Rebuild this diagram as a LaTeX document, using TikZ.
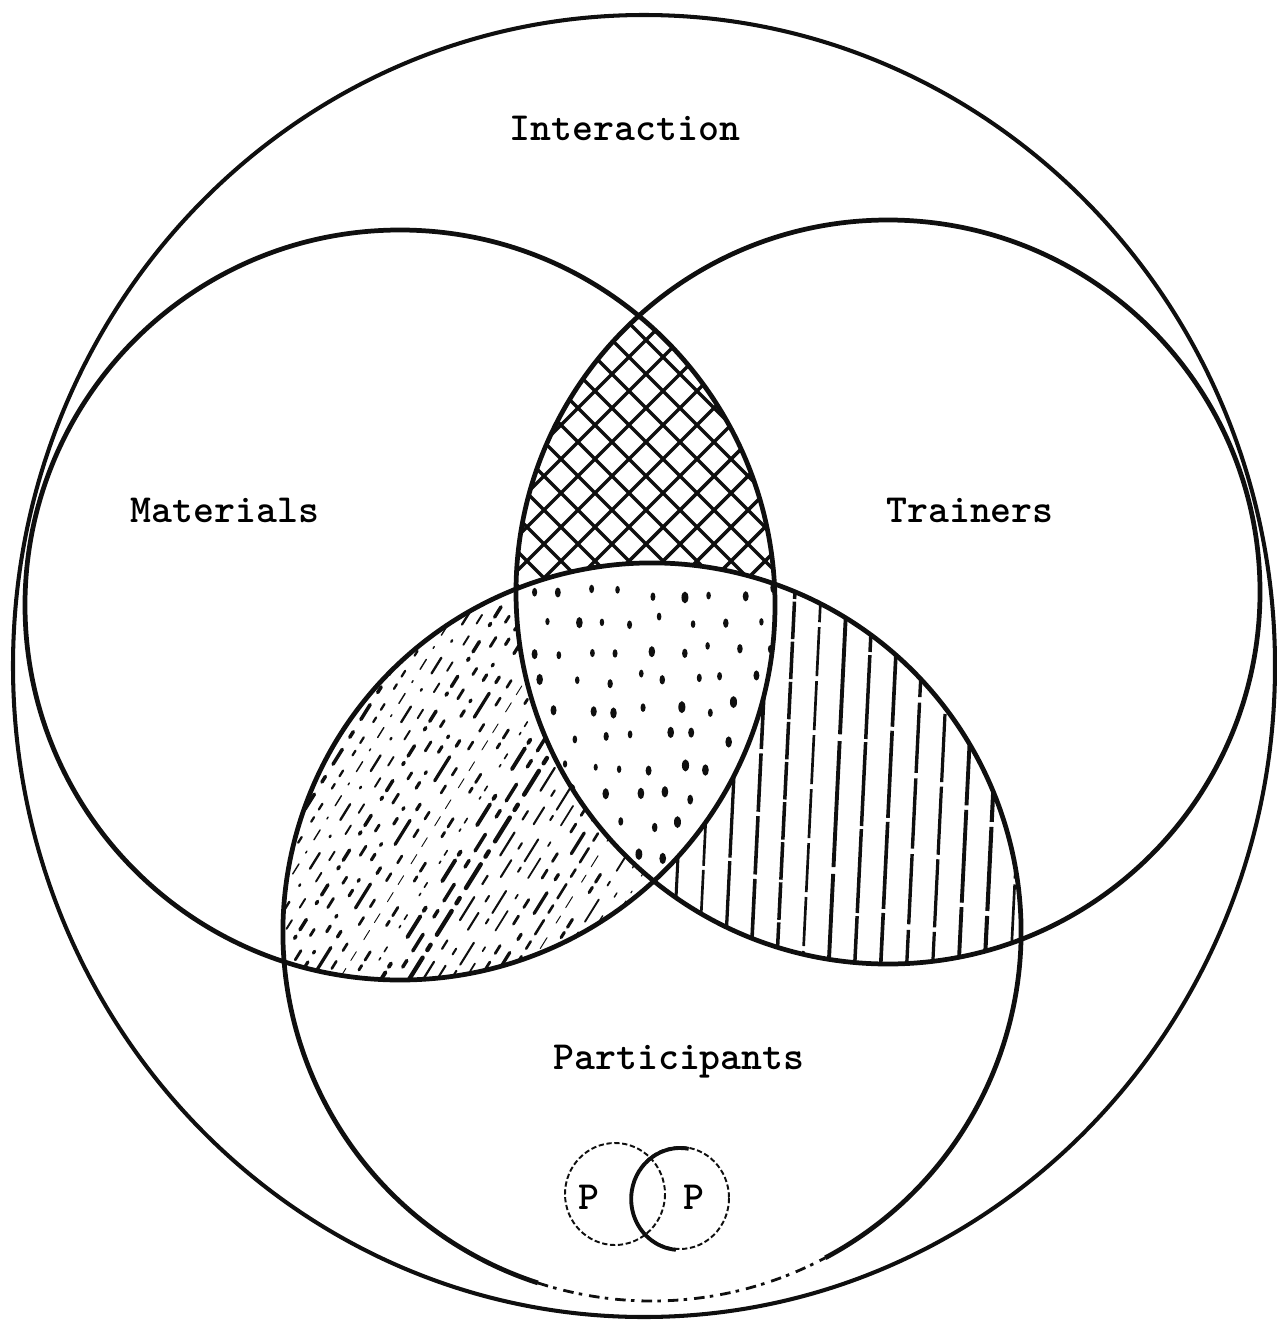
\documentclass[tikz,border=0pt]{standalone}
\usepackage{tikz}
\usetikzlibrary{calc}
\definecolor{inkblack}{RGB}{15,15,15}

\begin{document}
\begin{tikzpicture}[x=.02cm,y=-.02cm,font=\ttfamily\bfseries\fontsize{22.7}{27}\selectfont,
    ring/.style={draw=inkblack,line width=2.7pt},
    hatch/.style={inkblack,line width=2pt,line cap=round}]
  \useasboundingbox (0,0) rectangle (1276,1325);
  \pgfmathsetseed{11}
  % shading of the overlaps first, rings on top
  \begin{scope}[even odd rule] % materials and trainers only
    \clip (400,605) circle (375); \clip (888,592) circle (372);
    \clip (0,0) rectangle (1276,1325) (652,932) circle (369);
    \foreach \k in {-3,...,40} {\draw[hatch] (\k*34,0) -- ++(1400,1400); \draw[hatch] (\k*34,0) -- ++(-1400,1400);}
  \end{scope}
  \begin{scope} % all three
    \clip (400,605) circle (375); \clip (888,592) circle (372); \clip (652,932) circle (369);
    \foreach \r in {0,...,10} \foreach \c in {0,...,8} {
      \pgfmathsetmacro{\px}{530+\c*30+mod(\r,2)*15+7*rand}
      \pgfmathsetmacro{\py}{592+\r*29+6*rand}
      \pgfmathsetmacro{\sx}{2+1.6*rnd} \pgfmathsetmacro{\sy}{1.7*\sx}
      \fill[inkblack] (\px,\py) ellipse [x radius=\sx, y radius=\sy];
    }
  \end{scope}
  \begin{scope}[even odd rule] % materials and participants only
    \clip (400,605) circle (375); \clip (652,932) circle (369);
    \clip (0,0) rectangle (1276,1325) (888,592) circle (372);
    \foreach \k in {0,...,31} {
      \pgfmathsetmacro{\lw}{0.5+2*rnd}
      \pgfmathsetmacro{\onA}{3+14*rnd} \pgfmathsetmacro{\offA}{3+10*rnd}
      \pgfmathsetmacro{\onB}{1+5*rnd} \pgfmathsetmacro{\offB}{4+14*rnd}
      \pgfmathsetmacro{\ph}{30*rnd}
      \draw[inkblack,line width=\lw pt,line cap=round,dash pattern=on \onA pt off \offA pt on \onB pt off \offB pt,dash phase=\ph pt] (180+\k*14,1010) -- ++(330,-530);
    }
  \end{scope}
  \begin{scope}[even odd rule] % trainers and participants only
    \clip (888,592) circle (372); \clip (652,932) circle (369);
    \clip (0,0) rectangle (1276,1325) (400,605) circle (375);
    \foreach \k in {0,...,15} {
      \pgfmathsetmacro{\lw}{1.5+0.9*rnd}
      \pgfmathsetmacro{\onA}{20+60*rnd} \pgfmathsetmacro{\offA}{1+3*rnd}
      \draw[inkblack,line width=\lw pt,dash pattern=on \onA pt off \offA pt] (645+\k*26,1000) -- ++(22,-450);
    }
  \end{scope}
  % rings
  \draw[ring,line width=2.3pt] (644,666) ellipse [x radius=631, y radius=651];
  \draw[ring] (400,605) circle (375);
  \draw[ring] (888,592) circle (372);
  \draw[ring] (652,932) ++(108:369) arc[start angle=108,end angle=422,radius=369];
  \draw[inkblack,line width=1.6pt,dash pattern=on 6pt off 3pt on 2pt off 4pt] (652,932) ++(108:369) arc[start angle=108,end angle=62,radius=369];
  % labels
  \node (interaction) at (625,128) {Interaction};
  \node (materials) at (225,510) {Materials};
  \node (trainers) at (970,510) {Trainers};
  \node (participants) at (679,1062) {Participants};
  % two persons
  \draw[inkblack,line width=1.1pt,dash pattern=on 3pt off 1.5pt] (615,1194) ellipse [x radius=50, y radius=51];
  \draw[inkblack,line width=1.1pt,dash pattern=on 3pt off 1.5pt] (680,1198) ellipse [x radius=49, y radius=51];
  \draw[inkblack,line width=2.2pt] (680,1198) ++(280:50) arc[start angle=280,end angle=95,x radius=49,y radius=51];
  \node (pleft) at (589,1197) {P};
  \node (pright) at (694,1197) {P};
\end{tikzpicture}
\end{document}
